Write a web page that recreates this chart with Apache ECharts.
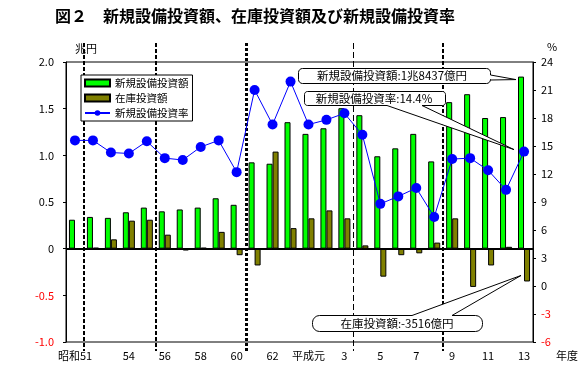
<!DOCTYPE html>
<html><head><meta charset="utf-8">
<script src="https://cdn.jsdelivr.net/npm/echarts@6/dist/echarts.min.js"></script>
<style>html,body{margin:0;padding:0;background:#fff}#c{width:580px;height:370px}</style>
</head><body><div id="c"></div>
<script>
// ---- data ----
const categories = ['昭和51','52','53','54','55','56','57','58','59','60','61','62','63','平成元','2','3','4','5','6','7','8','9','10','11','12','13'];
const tickLabels = ['昭和51','','','54','','56','','58','','60','','62','','平成元','','3','','5','','7','','9','','11','','13'];
const capex = [0.31,0.34,0.33,0.39,0.44,0.40,0.42,0.44,0.54,0.47,0.925,0.91,1.355,1.23,1.29,1.505,1.43,0.99,1.075,1.23,0.935,1.57,1.655,1.40,1.41,1.8437];
const inventory = [0,0.01,0.10,0.30,0.31,0.15,-0.02,0.01,0.18,-0.07,-0.18,1.04,0.22,0.325,0.41,0.325,0.035,-0.30,-0.07,-0.05,0.065,0.325,-0.41,-0.18,0.02,-0.3516];
const capexRate = [15.6,15.6,14.3,14.2,15.5,13.7,13.5,14.9,15.6,12.2,21.0,17.3,21.9,17.3,17.8,18.5,16.2,8.8,9.6,10.5,7.4,13.6,13.7,12.4,10.3,14.4];
const seriesNames = ['新規設備投資額','在庫投資額','新規設備投資率'];
const leftNegTicks = [-0.5, -1.0];
const rightNegTicks = [-3, -6];
// dashed divider lines: placed after these category indices
const dividerAfter = [0, 4, 9, 15, 20];
const dividerKind = ['medium','medium','thick','thin','medium'];

const FONT = '"Noto Sans CJK JP", "Noto Sans", sans-serif';
const chart = echarts.init(document.getElementById('c'), null, {renderer:'canvas'});

function okuText(v){
  const sign = v < 0 ? '-' : '';
  const oku = Math.round(Math.abs(v) * 10000);
  const cho = Math.floor(oku / 10000), rest = oku % 10000;
  return sign + (cho ? cho + '兆' : '') + rest + '億円';
}

chart.setOption({
  animation:false,
  backgroundColor:'#fff',
  textStyle:{fontFamily:FONT},
  title:{text:'図２　新規設備投資額、在庫投資額及び新規設備投資率', left:55, top:8, padding:0,
    textStyle:{fontFamily:FONT, fontSize:16, fontWeight:'bold', color:'#000'}},
  grid:{left:66, right:47, top:62, bottom:28, show:true, borderColor:'#000', borderWidth:1},
  legend:{
    orient:'vertical', left:81, top:75, padding:[2,4,2,3], itemGap:3,
    backgroundColor:'#fff', borderColor:'#000', borderWidth:1, z:10,
    itemWidth:25, itemHeight:7,
    textStyle:{fontFamily:FONT, fontSize:10.5, color:'#000', lineHeight:12},
    data:[{name:seriesNames[0], icon:'rect'},{name:seriesNames[1], icon:'rect'},{name:seriesNames[2]}]
  },
  xAxis:[
    {type:'category', data:categories, position:'bottom',
     axisLine:{show:false, onZero:false}, axisTick:{show:false},
     axisLabel:{interval:0, margin:8, fontSize:11, color:'#000', fontFamily:FONT,
       formatter:(v, i) => tickLabels[i]}},
    {type:'category', data:categories, position:'bottom',
     axisLine:{show:true, onZero:true, onZeroAxisIndex:0, lineStyle:{color:'#000', width:1}},
     axisTick:{show:false}, axisLabel:{show:false}, splitLine:{show:false}}
  ],
  yAxis:[
    {type:'value', min:-1, max:2, interval:0.5, position:'left',
     axisLine:{show:true, lineStyle:{color:'#000'}},
     axisTick:{show:true, length:3, lineStyle:{color:'#000'}},
     splitLine:{show:false},
     axisLabel:{margin:12, fontSize:11, color:'#000', fontFamily:FONT,
       formatter:v => v < 0 ? '' : (v === 0 ? '0' : v.toFixed(1))}},
    {type:'value', min:-6, max:24, interval:3, position:'right',
     axisLine:{show:true, lineStyle:{color:'#000'}},
     axisTick:{show:true, length:3, lineStyle:{color:'#000'}},
     splitLine:{show:false},
     axisLabel:{margin:8, fontSize:11, color:'#000', fontFamily:FONT,
       formatter:v => v < 0 ? '' : String(v)}}
  ],
  series:[
    {name:seriesNames[0], type:'bar', data:capex, yAxisIndex:0, barGap:'0%', barCategoryGap:'33%',
     itemStyle:{color:'#00FF00', borderColor:'#000', borderWidth:1}},
    {name:seriesNames[1], type:'bar', data:inventory, yAxisIndex:0,
     itemStyle:{color:'#808000', borderColor:'#000', borderWidth:1}},
    {name:seriesNames[2], type:'line', data:capexRate, yAxisIndex:1, z:5,
     symbol:'circle', symbolSize:10, lineStyle:{color:'#0000FF', width:1},
     itemStyle:{color:'#0000FF'}}
  ]
});

// ---- overlay graphics (zero line, negative tick labels, divider lines, unit labels, callouts) ----
function px(i, v, axis){ return chart.convertToPixel({xAxisIndex:0, yAxisIndex:axis}, [i, v]); }
const g = [];
const zeroY = Math.round(px(0, 0, 0)[1]) + 0.5;
const gridLeft = 66, gridRight = 533;
g.push({type:'line', z:100, silent:true, shape:{x1:gridLeft, y1:zeroY, x2:gridRight, y2:zeroY},
  style:{stroke:'#000000', lineWidth:1}});
leftNegTicks.forEach(v => {
  g.push({type:'text', z:5, silent:true, x:gridLeft - 12, y:px(0, v, 0)[1],
    style:{text:v.toFixed(1), font:'11px '+FONT, fill:'#FF0000', align:'right', verticalAlign:'middle'}});
});
rightNegTicks.forEach(v => {
  g.push({type:'text', z:5, silent:true, x:gridRight + 8, y:px(0, v, 1)[1],
    style:{text:String(v), font:'11px '+FONT, fill:'#FF0000', align:'left', verticalAlign:'middle'}});
});
const styles = {
  thin:{lineWidth:1, lineDash:[6,3], off:0.5},
  medium:{lineWidth:2, lineDash:[4,2], off:0},
  thick:{lineWidth:3, lineDash:[3,2], off:0.5}
};
dividerAfter.forEach((a, k) => {
  const s = styles[dividerKind[k]];
  const x = Math.round((px(a,0,0)[0] + px(a+1,0,0)[0]) / 2) + s.off;
  g.push({type:'line', z:3, silent:true, shape:{x1:x, y1:43, x2:x, y2:351},
    style:{stroke:'#000', lineWidth:s.lineWidth, lineDash:s.lineDash}});
});
g.push({type:'text', x:75, y:43, z:5, silent:true, style:{text:'兆円', font:'11px '+FONT, fill:'#000'}});
g.push({type:'text', x:547, y:41, z:5, silent:true, style:{text:'%', font:'11px '+FONT, fill:'#000'}});
g.push({type:'text', x:556, y:350, z:5, silent:true, style:{text:'年度', font:'11px '+FONT, fill:'#000'}});

// callout polygon: rounded box with a wedge on one side
function arcPts(cx, cy, r, a0, a1){
  const out = [];
  for (let k = 0; k <= 4; k++){
    const a = a0 + (a1 - a0) * k / 4;
    out.push([cx + r * Math.cos(a), cy + r * Math.sin(a)]);
  }
  return out;
}
function callout(x, y, w, h, r, side, b1, b2, tip){
  const x2 = x + w, y2 = y + h, P = Math.PI;
  let pts = [];
  pts = pts.concat(arcPts(x + r, y + r, r, P, 1.5 * P));
  if (side === 'top') pts.push([b1, y], tip, [b2, y]);
  pts = pts.concat(arcPts(x2 - r, y + r, r, 1.5 * P, 2 * P));
  if (side === 'right') pts.push([x2, b1], tip, [x2, b2]);
  pts = pts.concat(arcPts(x2 - r, y2 - r, r, 0, 0.5 * P));
  if (side === 'bottom') pts.push([b2, y2], tip, [b1, y2]);
  pts = pts.concat(arcPts(x + r, y2 - r, r, 0.5 * P, P));
  return pts;
}
const last = categories.length - 1;
const tip1 = px(last, capex[last], 0);
const tip2 = px(last, capexRate[last], 1);
const tip3 = px(last, inventory[last], 0);
const callouts = [
  {box:[298.5,68.5,192,15,4], side:'right', b:[75,80], tip:[tip1[0]-8, tip1[1]+3],
   text:seriesNames[0] + ':' + okuText(capex[last]), tx:392, ty:76},
  {box:[304.5,91.5,141,14,3], side:'bottom', b:[387,422], tip:[tip2[0]-10, tip2[1]-2],
   text:seriesNames[2] + ':' + capexRate[last].toFixed(1) + '%', tx:374, ty:98.5},
  {box:[312.5,315.5,170,16,7], side:'top', b:[412,452], tip:[tip3[0]-3, tip3[1]-6],
   text:seriesNames[1] + ':' + okuText(inventory[last]), tx:397, ty:323.5}
];
callouts.forEach(c => {
  const [x,y,w,h,r] = c.box;
  g.push({type:'polygon', z:20, silent:true,
    shape:{points:callout(x,y,w,h,r,c.side,c.b[0],c.b[1],c.tip)},
    style:{fill:'#fff', stroke:'#000', lineWidth:1}});
  g.push({type:'text', z:21, silent:true, x:c.tx, y:c.ty,
    style:{text:c.text, font:'11.5px '+FONT, fill:'#000', align:'center', verticalAlign:'middle'}});
});
chart.setOption({graphic:{elements:g}});
</script>
</body></html>
